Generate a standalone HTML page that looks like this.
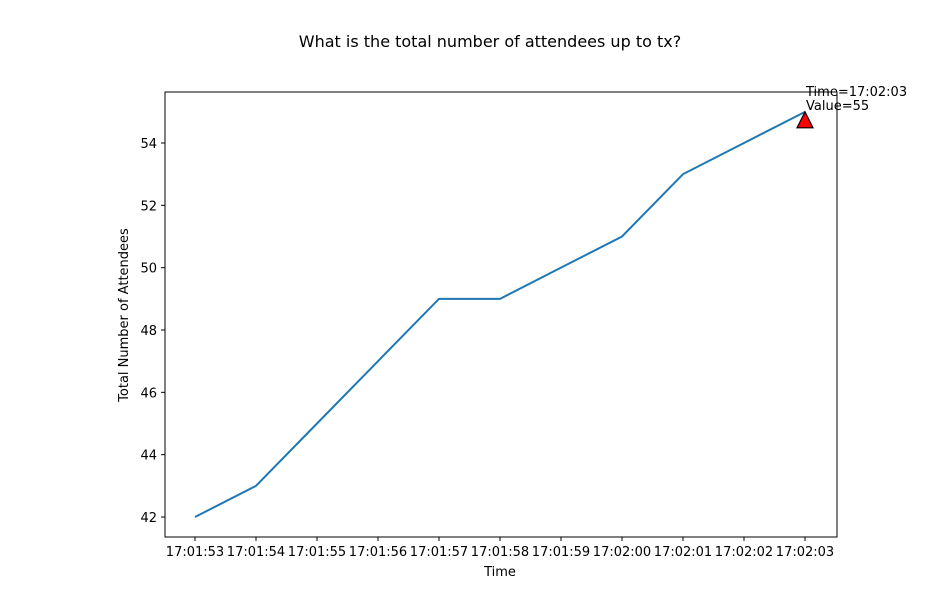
<!DOCTYPE html>
<html><head><meta charset="utf-8"><style>
body{margin:0;background:#fff;}
svg{display:block;font-family:"DejaVu Sans","Liberation Sans",sans-serif;}
</style></head><body>
<svg id="chart" width="942" height="589" viewBox="0 0 942 589">
<rect width="942" height="589" fill="#fff"/>
<text x="490" y="47" text-anchor="middle" font-size="16" fill="#000">What is the total number of attendees up to tx?</text>
<g id="yticks"></g>
<g id="xticks"></g>
<path id="line" fill="none" stroke="#1f77b4" stroke-width="2"/>
<rect x="165" y="92" width="672" height="445" fill="none" stroke="#000" stroke-width="1"/>
<text x="128" y="315" text-anchor="middle" font-size="13" transform="rotate(-90 128 315)">Total Number of Attendees</text>
<text x="500" y="576" text-anchor="middle" font-size="13">Time</text>
<g id="annot"></g>
</svg>
<script>
const categories=["17:01:53","17:01:54","17:01:55","17:01:56","17:01:57","17:01:58","17:01:59","17:02:00","17:02:01","17:02:02","17:02:03"];
const values=[42,43,45,47,49,49,50,51,53,54,55];
const yTicks=[42,44,46,48,50,52,54];
const NS="http://www.w3.org/2000/svg";
function xs(i){return 195+i*61;}
function ys(v){return 517-(v-42)*(374/12);}
function mk(tag,attrs,parent){const e=document.createElementNS(NS,tag);for(const k in attrs)e.setAttribute(k,attrs[k]);parent.appendChild(e);return e;}
const yg=document.getElementById('yticks');
yTicks.forEach(v=>{
 const l=mk('line',{x1:161,x2:165,y1:ys(v),y2:ys(v),stroke:'#000'},yg);
 
 
 const t=mk('text',{x:157,y:ys(v)+5,'text-anchor':'end','font-size':13},yg);
 t.textContent=v;
 
 
});
const xg=document.getElementById('xticks');
categories.forEach((c,i)=>{
 const l=mk('line',{x1:xs(i),x2:xs(i),y1:537,y2:541,stroke:'#000'},xg);
 
 
 const t=mk('text',{x:xs(i),y:556,'text-anchor':'middle','font-size':13},xg);
 t.textContent=c;
 
 
});
document.getElementById('line').setAttribute('d',values.map((v,i)=>(i?'L':'M')+xs(i)+','+ys(v)).join(' '));
const n=values.length-1,ax=xs(n),ay=ys(values[n]);
const ag=document.getElementById('annot');
const tri=mk('polygon',{points:`${ax},${ay} ${ax-8},${ay+16} ${ax+8},${ay+16}`,fill:'#ff0000',stroke:'#000','stroke-width':1.2},ag);


const t1=mk('text',{x:ax+1,y:ay-16,'font-size':13},ag);
t1.textContent='Time='+categories[n];


const t2=mk('text',{x:ax+1,y:ay-2,'font-size':13},ag);
t2.textContent='Value='+values[n];


</script>
</body></html>
